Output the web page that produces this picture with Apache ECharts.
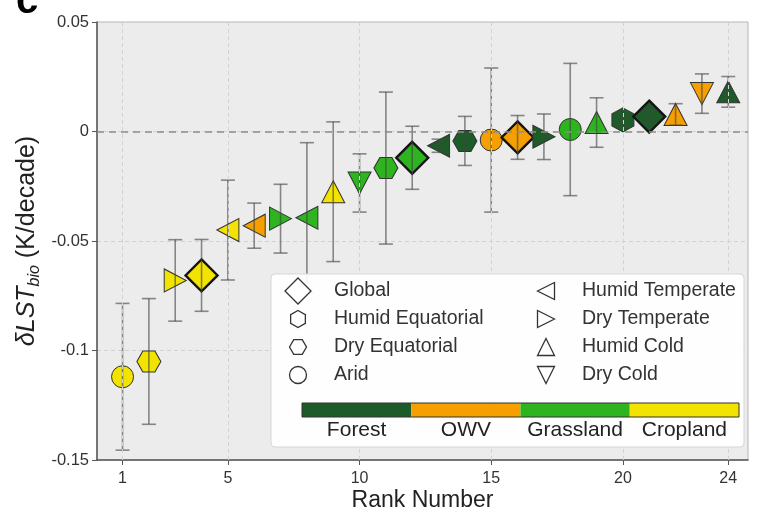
<!DOCTYPE html>
<html>
<head>
<meta charset="utf-8">
<script src="https://cdn.jsdelivr.net/npm/echarts@6/dist/echarts.min.js"></script>
<style>
html,body{margin:0;padding:0;background:#fff;}
#chart{width:758px;height:514px;}
</style>
</head>
<body>
<div id="chart"></div>
<script>
// ---------------- data ----------------
const ranks = [1,2,3,4,5,6,7,8,9,10,11,12,13,14,15,16,17,18,19,20,21,22,23,24];
const values = [-0.112,-0.105,-0.068,-0.0657,-0.045,-0.043,-0.0398,-0.0394,-0.0275,-0.0235,-0.0167,-0.012,
                -0.0065,-0.0043,-0.0039,-0.0027,-0.0024,0.0009,0.0041,0.0053,0.0068,0.0078,0.0173,0.0181];
const errors = [0.0335,0.0287,0.0186,0.0164,0.0228,0.0103,0.0157,0.0343,0.0319,0.0133,0.0347,0.0144,
                0.003,0.0112,0.0329,0.01,0.0104,0.0302,0.0113,0.002,0.003,0.0049,0.009,0.007];
const landTypes = ['Cropland','Cropland','Cropland','Cropland','Cropland','OWV','Grassland','Grassland',
                   'Cropland','Grassland','Grassland','Grassland','Forest','Forest','OWV','OWV',
                   'Forest','Grassland','Grassland','Forest','Forest','OWV','OWV','Forest'];
const climates = ['Arid','Dry Equatorial','Dry Temperate','Global','Humid Temperate','Humid Temperate','Dry Temperate','Humid Temperate',
                  'Humid Cold','Dry Cold','Dry Equatorial','Global','Humid Temperate','Dry Equatorial','Arid','Global',
                  'Dry Temperate','Arid','Humid Cold','Humid Equatorial','Global','Humid Cold','Dry Cold','Humid Cold'];
const landNames = ['Forest','OWV','Grassland','Cropland'];
const climateNames = ['Global','Humid Equatorial','Dry Equatorial','Arid','Humid Temperate','Dry Temperate','Humid Cold','Dry Cold'];
const xTicks = [1,5,10,15,20,24];
const yTicks = [-0.15,-0.1,-0.05,0,0.05];

// ---------------- styles ----------------
const landColor = {Forest:'#1d5b28', OWV:'#f5a000', Grassland:'#2db41f', Cropland:'#f3e300'};
const HEX_FLAT = 'path://M0,8.66L5,0L15,0L20,8.66L15,17.32L5,17.32Z';
const HEX_POINT = 'path://M8.66,0L17.32,5L17.32,15L8.66,20L0,15L0,5Z';
const DIAMOND = 'path://M10,0L20,10L10,20L0,10Z';
const symbolSpec = {
  'Global':           {symbol:DIAMOND, size:[32,32], rot:0, bw:2.4, bc:'#151515'},
  'Humid Equatorial': {symbol:HEX_POINT, size:[22,24], rot:0, bw:1, bc:'#333'},
  'Dry Equatorial':   {symbol:HEX_FLAT, size:[24,21], rot:0, bw:1, bc:'#333'},
  'Arid':             {symbol:'circle', size:22, rot:0, bw:1, bc:'#333'},
  'Humid Temperate':  {symbol:'triangle', size:[23,22], rot:90, bw:1, bc:'#333'},
  'Dry Temperate':    {symbol:'triangle', size:[23,22], rot:-90, bw:1, bc:'#333'},
  'Humid Cold':       {symbol:'triangle', size:[23,22], rot:0, bw:1, bc:'#333'},
  'Dry Cold':         {symbol:'triangle', size:[23,22], rot:180, bw:1, bc:'#333'}
};
const FONT = 'Liberation Sans, Arial, Helvetica, sans-serif';

const pointData = ranks.map((r,i)=>{
  const s = symbolSpec[climates[i]];
  return {
    value:[r, values[i]],
    symbol:s.symbol, symbolSize:s.size, symbolRotate:s.rot,
    itemStyle:{color:landColor[landTypes[i]], borderColor:s.bc, borderWidth:s.bw, opacity:1}
  };
});
const errData = ranks.map((r,i)=>[r, values[i]-errors[i], values[i]+errors[i]]);

// ---------------- legend graphics ----------------
function polyPts(cx, cy, pts){ return pts.map(p=>[cx+p[0], cy+p[1]]); }
function legendIcon(name, cx, cy){
  const st = {fill:'#fff', stroke:'#333', lineWidth:1.3};
  const r = 8.5;
  let pts;
  switch(name){
    case 'Global': pts=[[0,-13],[13,0],[0,13],[-13,0]]; break;
    case 'Humid Equatorial': pts=[[0,-r],[0.866*r,-r/2],[0.866*r,r/2],[0,r],[-0.866*r,r/2],[-0.866*r,-r/2]]; break;
    case 'Dry Equatorial': pts=[[-r,0],[-r/2,-0.866*r],[r/2,-0.866*r],[r,0],[r/2,0.866*r],[-r/2,0.866*r]]; break;
    case 'Arid': return {type:'circle', shape:{cx:cx, cy:cy, r:r}, style:st, z:101};
    case 'Humid Temperate': pts=[[-r,0],[r,-r],[r,r]]; break;
    case 'Dry Temperate': pts=[[r,0],[-r,-r],[-r,r]]; break;
    case 'Humid Cold': pts=[[0,-r],[r,r],[-r,r]]; break;
    case 'Dry Cold': pts=[[0,r],[r,-r],[-r,-r]]; break;
  }
  return {type:'polygon', shape:{points:polyPts(cx,cy,pts)}, style:st, z:101};
}
const graphics = [];
graphics.push({type:'rect', shape:{x:271, y:274, width:473, height:173, r:4},
  style:{fill:'rgba(255,255,255,0.92)', stroke:'#d6d6d6', lineWidth:1}, z:100});
const rowY = [291, 319, 347, 375];
climateNames.forEach((n,i)=>{
  const col = i<4 ? 0 : 1;
  const row = i%4;
  const ix = col===0 ? 298 : 546;
  const tx = col===0 ? 334 : 582;
  graphics.push(legendIcon(n, ix, rowY[row]));
  graphics.push({type:'text', x:tx, y:rowY[row], z:101,
    style:{text:n, fontSize:19.5, fontFamily:FONT, fill:'#333', align:'left', verticalAlign:'middle', textAlign:'left', textVerticalAlign:'middle'}});
});
const barX0 = 302, barW = 437, barY = 403, barH = 14;
landNames.forEach((n,i)=>{
  const w = barW/landNames.length;
  graphics.push({type:'rect', shape:{x:barX0+i*w, y:barY, width:w, height:barH}, style:{fill:landColor[n]}, z:101});
  graphics.push({type:'text', x:barX0+i*w+w/2, y:430, z:101,
    style:{text:n, fontSize:21, fontFamily:FONT, fill:'#222', align:'center', verticalAlign:'middle', textAlign:'center', textVerticalAlign:'middle'}});
});
graphics.push({type:'rect', shape:{x:barX0, y:barY, width:barW, height:barH}, style:{fill:'none', stroke:'#333', lineWidth:1}, z:102});
// panel label
graphics.push({type:'text', x:16, y:2, z:101,
  style:{text:'c', fontSize:40, fontWeight:'bold', fontFamily:FONT, fill:'#000', align:'left', verticalAlign:'middle', textAlign:'left', textVerticalAlign:'middle'}});

// ---------------- chart ----------------
const chart = echarts.init(document.getElementById('chart'), null, {renderer:'canvas'});
const option = {
  animation:false,
  backgroundColor:'#fff',
  grid:{left:97, right:10, top:22, bottom:54, show:true, outerBoundsMode:'none', containLabel:false,
        backgroundColor:'#ececec', borderColor:'#b5b5b5', borderWidth:1},
  xAxis:{
    type:'value', min:0.03, max:24.75,
    name:'Rank Number', nameLocation:'middle', nameGap:29, nameMoveOverlap:false,
    nameTextStyle:{fontSize:23, color:'#222', fontFamily:FONT},
    axisLine:{show:true, onZero:false, lineStyle:{color:'#555', width:1.5}},
    axisTick:{show:true, customValues:xTicks, length:5, lineStyle:{color:'#555'}},
    axisLabel:{customValues:xTicks, fontSize:16, color:'#333', fontFamily:FONT, margin:11},
    splitLine:{show:false}
  },
  yAxis:{
    type:'value', min:yTicks[0], max:yTicks[yTicks.length-1], interval:0.05,
    name:'{it|δLST}{sub|bio}{n| (K/decade)}', nameLocation:'middle', nameGap:54, nameRotate:90, nameMoveOverlap:false,
    nameTextStyle:{
      color:'#222', fontFamily:FONT,
      rich:{
        it:{fontSize:25, fontStyle:'italic', color:'#222', fontFamily:FONT, lineHeight:32, verticalAlign:'middle'},
        sub:{fontSize:16, fontStyle:'italic', color:'#222', fontFamily:FONT, lineHeight:16, verticalAlign:'bottom'},
        n:{fontSize:25, color:'#222', fontFamily:FONT, lineHeight:32, verticalAlign:'middle'}
      }
    },
    axisLine:{show:true, onZero:false, lineStyle:{color:'#555', width:1.5}},
    axisTick:{show:true, length:5, lineStyle:{color:'#555'}},
    axisLabel:{fontSize:16.5, color:'#333', fontFamily:FONT, margin:8},
    splitLine:{show:true, lineStyle:{color:'#d2d2d2', type:[4,3], width:1}}
  },
  graphic:graphics,
  series:[
    {
      type:'line', data:[], silent:true,
      markLine:{
        silent:true, symbol:'none', animation:false, label:{show:false},
        data:xTicks.map(v=>({xAxis:v, lineStyle:{color:'#d2d2d2', type:[4,3], width:1}}))
             .concat([{yAxis:0, lineStyle:{color:'#8c8c8c', type:[7,5], width:1.6}}])
      },
      z:1
    },
    {
      type:'scatter', data:pointData, z:3, itemStyle:{opacity:1}
    },
    {
      type:'custom', z:4, silent:true,
      data:errData,
      renderItem:function(params, api){
        const x = api.value(0);
        const lo = api.coord([x, api.value(1)]);
        const hi = api.coord([x, api.value(2)]);
        const cw = 7;
        const st = {stroke:'rgba(70,70,70,0.62)', lineWidth:1.6};
        return {type:'group', children:[
          {type:'line', shape:{x1:lo[0], y1:lo[1], x2:hi[0], y2:hi[1]}, style:st},
          {type:'line', shape:{x1:lo[0]-cw, y1:lo[1], x2:lo[0]+cw, y2:lo[1]}, style:st},
          {type:'line', shape:{x1:hi[0]-cw, y1:hi[1], x2:hi[0]+cw, y2:hi[1]}, style:st}
        ]};
      }
    }
  ]
};
chart.setOption(option);
</script>
</body>
</html>
